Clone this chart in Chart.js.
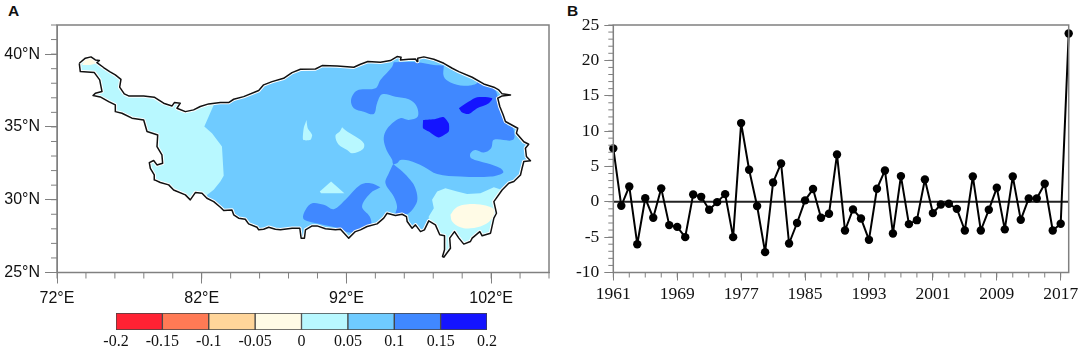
<!DOCTYPE html>
<html>
<head>
<meta charset="utf-8">
<script src="https://cdn.jsdelivr.net/npm/chart.js@4"></script>
<style>
  html, body { margin: 0; padding: 0; background: #fff; }
  body { position: relative; width: 1084px; height: 352px; overflow: hidden; }
  canvas { position: absolute; }
  .tag { position: absolute; font: bold 15.5px "Liberation Sans", sans-serif; color: #111; }
</style>
</head>
<body>
<div class="tag" style="left:8px;top:2px">A</div>
<div class="tag" style="left:567px;top:2px">B</div>
<canvas id="mapChart" width="560" height="310" style="left:0;top:0"></canvas>
<canvas id="colorbar" width="410" height="47" style="left:100px;top:305px"></canvas>
<canvas id="seriesChart" width="524" height="310" style="left:560px;top:0"></canvas>
<script>
// Panel B: yearly series
const years = [1961,1962,1963,1964,1965,1966,1967,1968,1969,1970,1971,1972,1973,1974,1975,1976,1977,1978,1979,1980,
  1981,1982,1983,1984,1985,1986,1987,1988,1989,1990,1991,1992,1993,1994,1995,1996,1997,1998,1999,2000,
  2001,2002,2003,2004,2005,2006,2007,2008,2009,2010,2011,2012,2013,2014,2015,2016,2017,2018];
const anomalies = [7.55,-0.57,2.17,-6.0,0.5,-2.26,1.9,-3.3,-3.55,-5.0,1.04,0.7,-1.13,-0.05,1.08,-5.0,11.13,4.53,-0.6,-7.12,
  2.74,5.42,-5.9,-3.0,0.2,1.8,-2.26,-1.7,6.7,-4.06,-1.08,-2.36,-5.38,1.84,4.43,-4.48,3.63,-3.16,-2.6,3.16,
  -1.6,-0.38,-0.28,-1.0,-4.06,3.58,-4.06,-1.13,1.98,-3.9,3.58,-2.55,0.47,0.47,2.55,-4.06,-3.1,23.8];
const yearTicks = [1961,1969,1977,1985,1993,2001,2009,2017];
const valueTicks = [-10,-5,0,5,10,15,20,25];

// Panel A: axis ticks in degrees
const lonTicks = [72,82,92,102];
const latTicks = [25,30,35,40];

// Colour bar
const barEdges = [-0.2,-0.15,-0.1,-0.05,0,0.05,0.1,0.15,0.2];
const barLabels = ['-0.2','-0.15','-0.1','-0.05','0','0.05','0.1','0.15','0.2'];
const barColors = ['#ff2233','#ff7a55','#ffd59a','#fffbe6','#b8f8ff','#6fcbff','#4088ff','#1414ff'];

// Boundary of the plateau as [lon, lat], clockwise, split where the contours meet it
const borderNorthWest = [[73.54,39.37],[73.96,39.72],[74.35,39.81],[74.65,39.60],[74.93,39.56],[74.76,39.42],[75.22,39.08],
  [75.64,38.80],[76.03,38.57],[76.42,38.27],[76.33,37.73],[76.65,37.27],[76.95,37.13],[77.99,37.13],[78.72,37.04],
  [79.37,36.63],[79.95,36.44],[80.11,36.67],[80.52,36.63],[80.29,36.28],[80.87,36.05],[81.44,36.17],[81.90,36.40],[82.48,36.58]];
const borderNorthEast = [[83.29,36.67],[83.86,36.67],[84.21,36.90],[84.90,37.08],[85.94,37.50],[86.28,37.89],[86.86,38.11],
  [87.66,38.34],[88.24,38.73],[88.82,38.96],[89.86,38.98],[90.32,39.21],[91.36,39.19],[92.51,39.10],[92.97,39.30],
  [93.48,39.49],[94.35,39.44],[95.04,39.56],[95.50,39.83],[95.78,39.78],[95.73,39.60],[96.31,39.65],[96.77,39.67],
  [96.89,39.49],[96.93,39.72],[97.35,39.81],[98.04,39.65],[98.73,39.37],[99.31,39.03],[99.77,38.80],[100.69,38.41],
  [101.49,37.95],[102.19,37.73],[102.53,37.54],[102.76,37.27],[103.34,37.20],[102.76,37.13],[102.46,36.97],[102.60,36.40],
  [102.83,35.83],[102.99,35.37],[103.84,34.91],[103.75,34.57],[104.26,33.98],[104.60,33.81],[104.37,33.54],[104.44,32.97],
  [104.72,32.67],[104.26,32.62],[104.14,32.16],[104.03,31.70],[103.57,31.25],[103.22,31.13]];
const borderSouthEast = [[102.76,30.67],[102.19,29.87],[102.37,29.07],[102.19,28.73],[101.96,27.70],[101.38,27.52],[101.22,27.81],
  [100.69,27.36],[100.57,27.13],[100.11,26.95],[99.77,27.36],[99.47,27.81],[99.14,27.36],[99.19,26.67],[98.73,26.05],
  [98.64,26.10],[98.78,26.56],[98.78,27.52],[98.45,27.59],[98.15,28.27],[97.69,28.55]];
const borderSouth = [[97.39,27.93],[97.12,27.81],[96.77,28.27],[96.54,28.04],[96.20,28.50],[96.15,28.84],[95.85,29.00],[95.39,28.91],
  [94.81,29.07],[94.58,28.73],[94.12,28.34],[93.43,28.16],[92.97,27.93],[92.62,27.81],[92.16,27.36],[91.59,27.97],[91.24,27.93],
  [90.55,28.00],[89.97,28.20],[89.63,28.20],[89.17,27.93],[89.10,27.36],[88.87,27.36],[88.78,28.04],[88.25,28.04],[87.44,27.93],
  [87.09,27.97],[86.63,28.11],[86.28,27.97],[85.94,27.93],[85.82,28.11],[85.24,28.34],[85.01,28.66],[84.55,28.73],[84.21,28.96],
  [84.09,29.30],[83.52,29.26],[83.29,29.48],[82.83,29.87]];
const borderWest = [[82.36,30.10],[82.02,30.45],[81.56,30.49],[81.21,29.99],[80.87,30.33],[80.06,30.67],[79.72,31.02],[79.14,31.18],
  [78.75,31.36],[78.72,31.70],[78.45,32.16],[78.38,32.55],[78.68,32.69],[78.91,32.39],[79.30,32.50],[79.25,33.08],[78.91,33.65],
  [78.96,34.45],[78.22,34.68],[77.99,35.48],[77.18,35.60],[76.49,35.94],[76.03,36.05],[76.03,36.51],[75.57,36.74],[74.99,37.06],
  [74.49,37.15],[74.65,37.31],[75.11,37.43],[74.95,38.23],[74.58,38.73],[73.61,38.80]];

// Contour lines inside the boundary
const westEdge = [[82.83,36.51],[82.18,35.03],[82.71,34.57],[83.40,33.65],[83.52,31.64],[83.29,31.25],[82.83,30.68],[82.36,30.33]];
const southEastEdge = [[97.69,28.84],[98.04,29.42],[97.92,29.99],[98.27,30.56],[98.84,30.79],[99.65,30.56],[100.34,30.40],[101.26,30.45],[102.19,30.86]];
const blueNorth = [[95.27,39.44],[96.89,39.44],[98.04,39.26],[98.73,39.21],[99.31,39.03],[100.69,38.41],[101.49,37.95],[102.19,37.65],
  [102.46,37.08],[102.53,36.40],[102.76,35.71],[103.11,35.14],[103.52,34.91],[103.52,34.11],[102.19,34.11],[102.00,33.54],[101.49,33.24],
  [100.92,33.42],[100.57,33.19],[100.62,32.85],[101.72,32.50],[102.65,32.16],[102.83,31.86],[101.96,31.59],[99.88,31.59],[98.27,31.77],
  [97.35,32.27],[96.31,32.69],[95.73,32.73],[95.50,32.50],[95.23,32.46],[95.16,32.74],[94.77,33.42],[94.58,34.11],[94.70,34.68],
  [95.16,35.25],[95.73,35.60],[96.31,35.48],[96.93,35.71],[96.84,36.44],[96.31,36.90],[95.39,37.08],[94.47,37.24],[94.12,36.63],
  [93.89,35.89],[93.20,36.05],[92.51,36.28],[92.32,36.86],[92.74,37.50],[94.01,37.66],[94.35,38.23],[95.16,39.14]];
const blueSouthLobe = [[95.23,32.46],[95.73,32.05],[96.31,31.48],[96.66,31.02],[96.89,30.33],[96.84,29.76],[96.31,29.07],[95.85,29.00],
  [95.39,28.91],[95.50,29.53],[95.27,30.22],[94.70,31.13],[94.93,31.82]];
const blueSouthWest = [[94.35,30.86],[93.66,30.45],[93.08,29.53],[93.61,28.84],[93.71,28.27],[93.32,28.11],[92.62,27.81],[92.16,27.75],
  [91.47,28.04],[90.44,28.27],[89.40,28.50],[89.01,28.73],[89.17,29.30],[89.63,29.76],[90.44,29.65],[91.13,29.35],[91.93,29.99],
  [92.97,31.02],[93.66,31.13]];
const midNorthEast = [[98.73,39.21],[98.73,38.46],[99.19,38.05],[100.11,37.82],[101.03,38.00],[100.80,38.34],[99.65,38.87],[99.08,39.19]];
const lightSliver = [[89.24,35.48],[89.33,34.91],[89.63,34.45],[89.51,34.11],[89.01,34.11],[89.05,34.91]];
const lightIsland = [[91.70,34.98],[92.05,34.68],[92.62,34.34],[93.20,33.88],[93.15,33.49],[92.39,33.19],[92.05,33.42],[91.47,33.77],[91.24,34.39],[91.54,34.68]];
const lightSouth = [[90.94,31.25],[91.86,30.45],[90.25,30.45],[90.16,30.56]];
const creamSouthEast = [[99.19,28.96],[99.54,29.42],[100.11,29.65],[101.03,29.69],[101.84,29.53],[102.19,29.30],[102.07,28.73],[101.49,28.27],[100.57,28.04],[99.88,28.11],[99.31,28.50]];
const creamNorthWest = [[73.73,39.26],[73.96,39.65],[74.35,39.72],[74.65,39.56],[74.76,39.37],[74.30,39.26]];
const darkNorth = [[99.77,36.28],[100.46,36.74],[101.03,37.04],[102.07,36.97],[101.84,36.63],[101.03,36.28],[100.46,35.89],[100.00,35.99]];
const darkCentre = [[97.30,35.48],[98.15,35.55],[98.73,35.67],[99.07,35.25],[99.07,34.68],[98.38,34.27],[97.69,34.68],[97.30,34.91]];

const FRAME = '#808080';
const SANS = '"Liberation Sans", sans-serif';
const SERIF = '"Liberation Serif", serif';

// minor ticks and the box round the plot, placed through the chart's scales
const axisDecor = {
  id: 'axisDecor',
  afterDraw(chart, args, opts) {
    const { ctx, chartArea: a, scales: { x, y } } = chart;
    ctx.save();
    ctx.strokeStyle = FRAME;
    ctx.lineWidth = 1;
    for (let v = x.min; v <= x.max; v += opts.xStep) {
      const px = x.getPixelForValue(v);
      ctx.beginPath(); ctx.moveTo(px, a.bottom); ctx.lineTo(px, a.bottom + opts.minorLen); ctx.stroke();
    }
    for (let v = y.min; v <= y.max; v += opts.yStep) {
      const py = y.getPixelForValue(v);
      ctx.beginPath(); ctx.moveTo(a.left, py); ctx.lineTo(a.left - opts.minorLen, py); ctx.stroke();
    }
    ctx.lineWidth = 1.5;
    ctx.strokeRect(a.left, a.top, a.right - a.left, a.bottom - a.top);
    ctx.restore();
  }
};

const toXY = pts => pts.map(p => ({ x: p[0], y: p[1] }));
const outline = [...borderNorthWest, ...borderNorthEast, ...borderSouthEast, ...borderSouth, ...borderWest, borderNorthWest[0]];

// filled areas, bottom layer first; the free-standing contours get rounded
const mapLayers = [
  { pts: outline, color: '#6fcbff', tension: 0 },
  { pts: [...borderWest, ...borderNorthWest, ...westEdge], color: '#b8f8ff', tension: 0 },
  { pts: blueNorth, color: '#4088ff', tension: 0.35 },
  { pts: blueSouthLobe, color: '#4088ff', tension: 0.35 },
  { pts: blueSouthWest, color: '#4088ff', tension: 0.35 },
  { pts: midNorthEast, color: '#6fcbff', tension: 0.35 },
  { pts: lightSliver, color: '#b8f8ff', tension: 0.2 },
  { pts: lightIsland, color: '#b8f8ff', tension: 0.35 },
  { pts: lightSouth, color: '#b8f8ff', tension: 0 },
  { pts: [...borderSouthEast, ...southEastEdge], color: '#b8f8ff', tension: 0 },
  { pts: creamSouthEast, color: '#fffbe6', tension: 0.4 },
  { pts: creamNorthWest, color: '#fffbe6', tension: 0 },
  { pts: darkNorth, color: '#1414ff', tension: 0.3 },
  { pts: darkCentre, color: '#1414ff', tension: 0.2 },
];

const mapDatasets = mapLayers.map(l => ({
  data: toXY([...l.pts, l.pts[0]]),
  showLine: true,
  fill: 'shape',
  backgroundColor: l.color,
  borderWidth: 0,
  pointRadius: 0,
  tension: l.tension,
}));
// white halo leaves the thin gap between the field and the boundary
mapDatasets.push({ data: toXY(outline), showLine: true, fill: false, borderColor: '#fff', borderWidth: 3.5, borderJoinStyle: 'round', pointRadius: 0 });
mapDatasets.push({ data: toXY(outline), showLine: true, fill: false, borderColor: '#111', borderWidth: 1.5, borderJoinStyle: 'round', pointRadius: 0 });
mapDatasets.forEach((d, i) => { d.order = mapDatasets.length - i; });

new Chart(document.getElementById('mapChart'), {
  type: 'scatter',
  data: { datasets: mapDatasets },
  plugins: [axisDecor],
  options: {
    responsive: false,
    animation: false,
    layout: { padding: { top: 25, right: 11 } },
    plugins: {
      legend: { display: false },
      tooltip: { enabled: false },
      axisDecor: { xStep: 2, yStep: 1, minorLen: 6 },
    },
    scales: {
      x: {
        type: 'linear', min: 72, max: 106,
        afterBuildTicks: s => { s.ticks = lonTicks.map(v => ({ value: v })); },
        afterFit: s => { s.height = 37.5; },
        grid: { drawOnChartArea: false, tickLength: 11, tickColor: FRAME },
        border: { color: FRAME },
        ticks: { autoSkip: false, maxRotation: 0, padding: 5, color: '#111', font: { family: SANS, size: 16 }, callback: v => v + '°E' },
      },
      y: {
        type: 'linear', min: 25, max: 42,
        afterBuildTicks: s => { s.ticks = latTicks.map(v => ({ value: v })); },
        afterFit: s => { s.width = 57; },
        grid: { drawOnChartArea: false, tickLength: 12, tickColor: FRAME },
        border: { color: FRAME },
        ticks: { autoSkip: false, padding: 5, color: '#111', font: { family: SANS, size: 16 }, callback: v => v + '°N' },
      },
    },
  },
});

new Chart(document.getElementById('colorbar'), {
  type: 'bar',
  data: {
    labels: ['bin'],
    datasets: barColors.map((c, i) => ({
      data: [[barEdges[i], barEdges[i + 1]]],
      backgroundColor: c,
      borderColor: '#444',
      borderWidth: 1,
      borderSkipped: false,
      grouped: false,
      barPercentage: 1,
      categoryPercentage: 1,
    })),
  },
  options: {
    indexAxis: 'y',
    responsive: false,
    animation: false,
    layout: { padding: { top: 8, left: 16, right: 23 } },
    plugins: { legend: { display: false }, tooltip: { enabled: false } },
    scales: {
      y: { display: false },
      x: {
        type: 'linear', min: -0.2, max: 0.2,
        afterBuildTicks: s => { s.ticks = barEdges.map(v => ({ value: v })); },
        afterFit: s => { s.height = 22; },
        grid: { display: false, drawTicks: false },
        border: { display: false },
        ticks: {
          autoSkip: false, maxRotation: 0, padding: 2, color: '#111', font: { family: SERIF, size: 16 },
          callback: (v, i) => barLabels[i],
        },
      },
    },
  },
});

new Chart(document.getElementById('seriesChart'), {
  type: 'line',
  data: {
    datasets: [
      {
        data: years.map((yr, i) => ({ x: yr, y: anomalies[i] })),
        borderColor: '#000', borderWidth: 2, borderJoinStyle: 'round',
        pointRadius: 4.2, pointBackgroundColor: '#000', pointBorderWidth: 0,
        clip: false, order: 1,
      },
      {
        data: [{ x: years[0], y: 0 }, { x: years[years.length - 1], y: 0 }],
        borderColor: '#222', borderWidth: 2, pointRadius: 0, order: 2,
      },
    ],
  },
  plugins: [axisDecor],
  options: {
    responsive: false,
    animation: false,
    layout: { padding: { top: 25, right: 15.3 } },
    plugins: {
      legend: { display: false },
      tooltip: { enabled: false },
      axisDecor: { xStep: 2, yStep: 1, minorLen: 5 },
    },
    scales: {
      x: {
        type: 'linear', min: 1961, max: 2018,
        afterBuildTicks: s => { s.ticks = yearTicks.map(v => ({ value: v })); },
        afterFit: s => { s.height = 37.5; },
        grid: { drawOnChartArea: false, tickLength: 8, tickColor: FRAME },
        border: { color: FRAME },
        ticks: { autoSkip: false, maxRotation: 0, padding: 3, color: '#111', font: { family: SERIF, size: 17.5 }, callback: v => String(v) },
      },
      y: {
        type: 'linear', min: -10, max: 25,
        afterBuildTicks: s => { s.ticks = valueTicks.map(v => ({ value: v })); },
        afterFit: s => { s.width = 53.3; },
        grid: { drawOnChartArea: false, tickLength: 9, tickColor: FRAME },
        border: { color: FRAME },
        ticks: { autoSkip: false, padding: 5, color: '#111', font: { family: SERIF, size: 17.5 }, callback: v => String(v) },
      },
    },
  },
});
</script>
</body>
</html>
